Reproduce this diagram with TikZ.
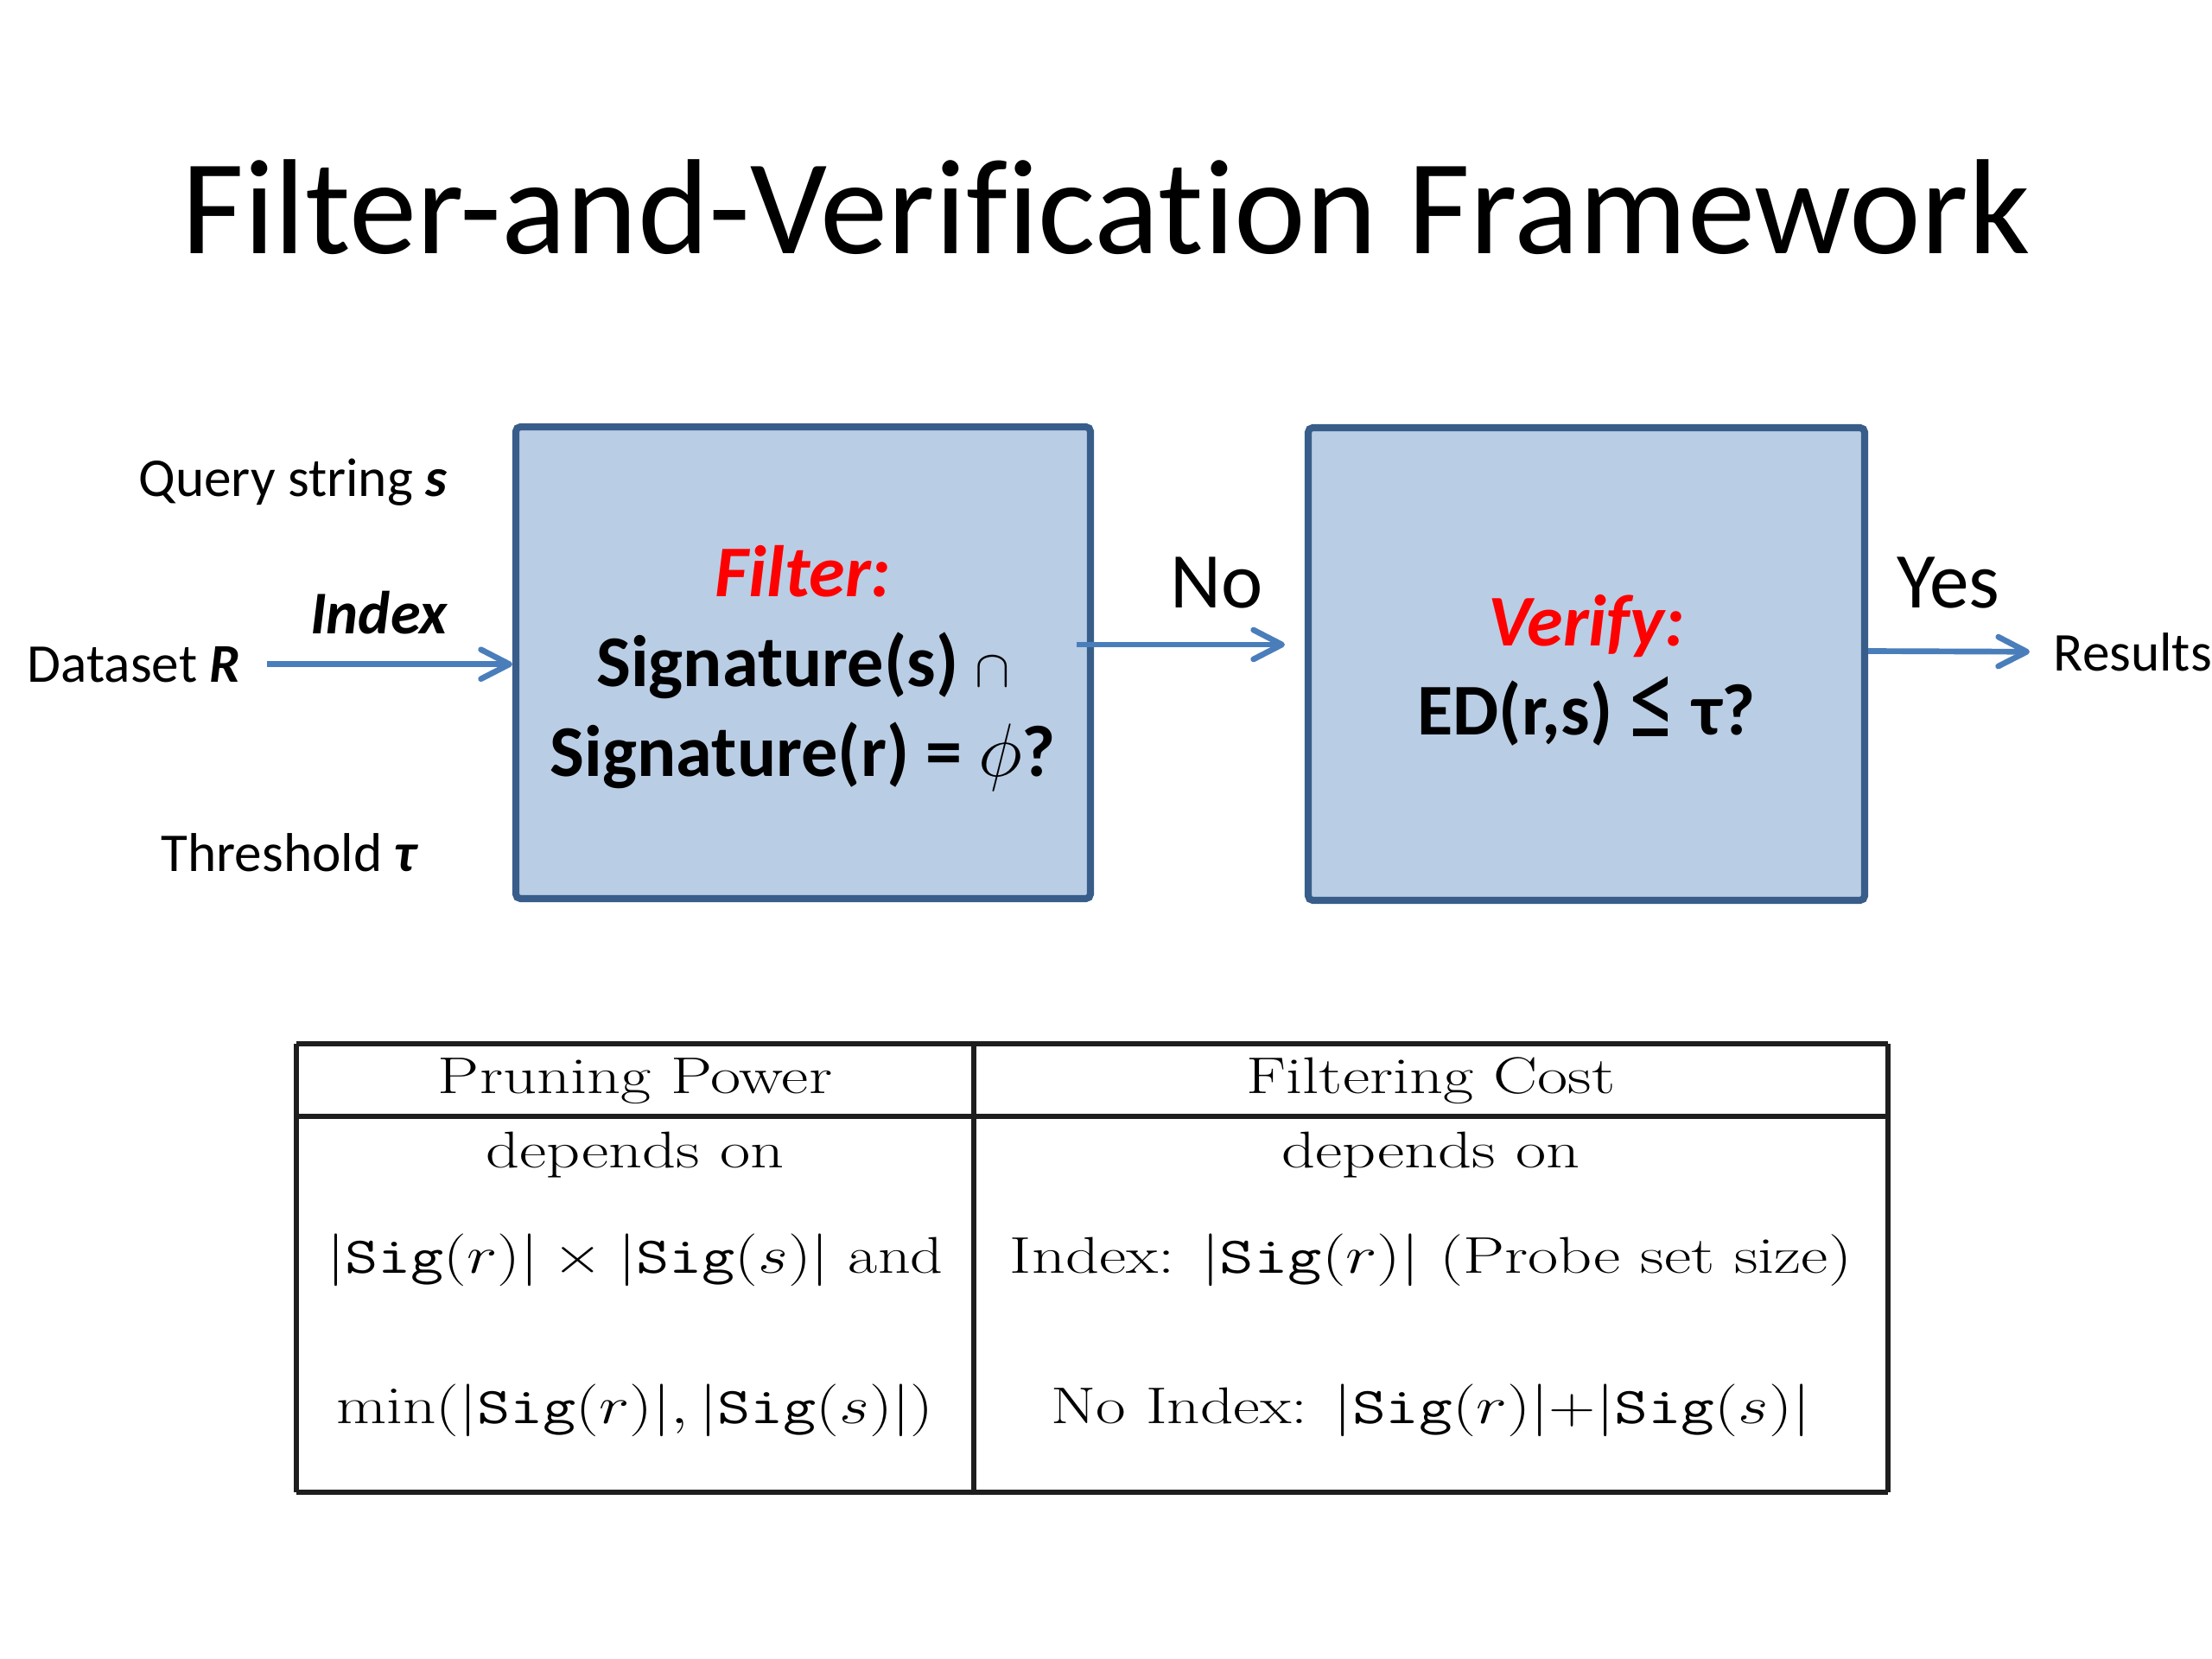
\documentclass[tikz,border=0pt]{standalone}
\usepackage[no-math]{fontspec}
\setsansfont{Carlito}[Ligatures=NoCommon]
\usepackage{xcolor}
\usepackage{graphicx}
\usepackage{tikz}
\usetikzlibrary{arrows.meta, positioning, calc}
\definecolor{boxfill}{RGB}{185,205,229}
\definecolor{boxline}{RGB}{56,93,138}
\definecolor{flowblue}{RGB}{74,126,187}
\definecolor{hotred}{RGB}{255,0,0}
\definecolor{ruleblack}{RGB}{30,30,30}
\newcommand{\tabwide}[1]{\scalebox{1.28}[1]{#1}}
\newcommand{\sigof}[1]{|\texttt{Sig}(#1)|}
\tikzset{
  stage/.style={rectangle, draw=boxline, fill=boxfill, line width=2.3pt,
    rounded corners=1.5pt, align=center,
    font=\sffamily\bfseries\fontsize{24}{29.5}\selectfont},
  lbl/.style={inner sep=0pt, font=\sffamily\fontsize{18}{22}\selectfont},
  biglbl/.style={inner sep=0pt, anchor=base, font=\sffamily\fontsize{26}{30}\selectfont},
  cell/.style={inner sep=0pt, anchor=base, font=\rmfamily\fontsize{17}{20}\selectfont},
  flow/.style={-{Straight Barb[length=3.3mm,width=3.4mm,round]}, line width=1.9pt, color=flowblue},
  rule/.style={line width=1.5pt, color=ruleblack}
}

\begin{document}
\begin{tikzpicture}
  \useasboundingbox (0,0) rectangle (25.6,-19.2);

  % Title
  \node[inner sep=0pt, anchor=base, font=\sffamily\fontsize{44.6}{52}\selectfont] (title)
    at (12.80,-2.94) {Filter-and-Verification Framework};

  % Stages
  \node[stage, minimum width=6.65cm, minimum height=5.46cm] (filter) at (9.295,-7.67)
    {\rule{0pt}{0.72cm}\textcolor{hotred}{\itshape Filter:}\\
     Signature(s) $\scriptstyle\cap$\\
     Signature(r) = $\phi$?};
  \node[stage, minimum width=6.44cm, minimum height=5.47cm] (verify) at (18.36,-7.685)
    {\rule{0pt}{0.74cm}\textcolor{hotred}{\itshape Verify:}\\
     ED(r,s) \raisebox{-0.07cm}{\mdseries\scalebox{1.3}[1.6]{≤}} τ?};

  % Inputs and outputs
  \node[lbl, anchor=base east] (query) at (5.18,-5.75) {Query string \textbf{\itshape s}};
  \node[lbl, anchor=base east, font=\sffamily\bfseries\itshape\fontsize{20}{24}\selectfont] (index)
    at (5.18,-7.34) {Index};
  \node[lbl, anchor=base west] (dataset) at (0.31,-7.89) {Dataset \textbf{\itshape R}};
  \node[lbl, anchor=base west] (thresh) at (1.86,-10.08) {Threshold \textbf{\itshape τ}};
  \node[lbl, anchor=base west] (results) at (23.76,-7.76) {Results};
  \node[biglbl] (nolbl) at (14.08,-7.04) {No};
  \node[biglbl] (yeslbl) at (22.55,-7.04) {Yes};

  % Arrows
  \draw[flow] ([xshift=0.3cm]dataset.east) -- (dataset.east -| filter.west);
  \draw[flow] ([xshift=-0.2cm,yshift=0.21cm]filter.east) -- ([xshift=-0.23cm,yshift=0.225cm]verify.west);
  \draw[flow] ([yshift=0.15cm]verify.east) -- ([xshift=-0.27cm]results.west);

  % Table rules
  \draw[rule] (3.43,-12.08) -- (21.85,-12.08);
  \draw[rule] (3.43,-12.92) -- (21.85,-12.92);
  \draw[rule] (3.43,-17.27) -- (21.85,-17.27);
  \draw[rule] (3.43,-12.08) -- (3.43,-17.27);
  \draw[rule] (11.27,-12.08) -- (11.27,-17.27);
  \draw[rule] (21.85,-12.08) -- (21.85,-17.27);

  % Table cells
  \node[cell] (hdrprune) at (7.35,-12.65) {\tabwide{Pruning Power}};
  \node[cell] (hdrcost) at (16.56,-12.65) {\tabwide{Filtering Cost}};
  \node[cell] (depprune) at (7.35,-13.51) {\tabwide{depends on}};
  \node[cell] (depcost) at (16.56,-13.51) {\tabwide{depends on}};
  \node[cell] (prunea) at (7.35,-14.73) {\scalebox{1.24}[1]{$\sigof{r}\times\sigof{s}$ and}};
  \node[cell] (pruneb) at (7.35,-16.47) {\scalebox{1.24}[1]{$\min(\sigof{r},\sigof{s})$}};
  \node[cell] (costa) at (16.56,-14.73) {\tabwide{Index: $\sigof{r}$ (Probe set size)}};
  \node[cell] (costb) at (16.56,-16.47) {\scalebox{1.26}[1]{No Index: $\sigof{r}$+$\sigof{s}$}};
\end{tikzpicture}
\end{document}
